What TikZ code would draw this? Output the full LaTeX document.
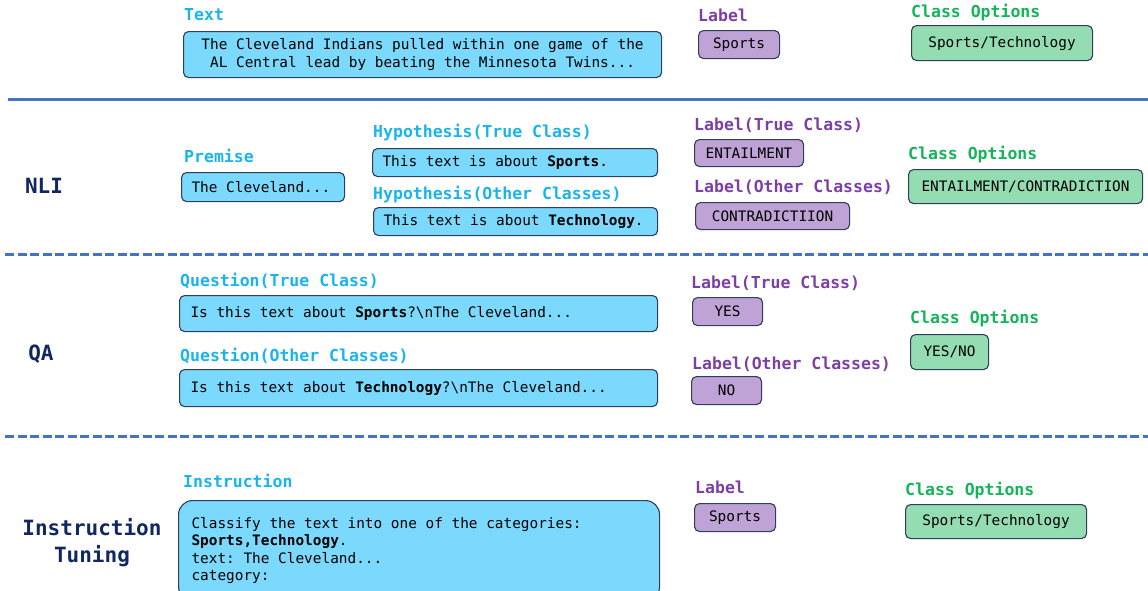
\documentclass[tikz,border=0pt]{standalone}
\usepackage{fontspec}
\setmainfont{DejaVu Sans Mono}
\usepackage{tikz}
\usepackage{xcolor}

\definecolor{boxline}{HTML}{2E3F5C}
\definecolor{textblue}{HTML}{7AD9FC}
\definecolor{labelpurple}{HTML}{C0A3D6}
\definecolor{optgreen}{HTML}{94DDB3}
\definecolor{headblue}{HTML}{19B4EC}
\definecolor{headpurple}{HTML}{7B3FA6}
\definecolor{headgreen}{HTML}{14B45A}
\definecolor{sidenavy}{HTML}{102761}
\definecolor{sepblue}{HTML}{4472C4}

\frenchspacing
\newcommand{\bodyfont}{\fontsize{14.4}{17.5}\selectfont}
\newcommand{\headfont}{\fontsize{16.5}{19}\selectfont\bfseries}
\newcommand{\sidefont}{\fontsize{21}{27}\selectfont\bfseries}

\begin{document}
\begin{tikzpicture}[x=1pt, y=-1pt,
	box/.style={draw=boxline, line width=1.1pt, rounded corners=5pt, inner sep=0pt, anchor=north west, font=\bodyfont, text=black},
	sz/.style 2 args={minimum width=#1pt, minimum height=#2pt},
	lefttext/.style={text width=#1pt, align=flush left},
	textbox/.style={box, fill=textblue},
	labelbox/.style={box, fill=labelpurple},
	optbox/.style={box, fill=optgreen},
	head/.style={anchor=base west, inner sep=0pt, font=\headfont},
	texthead/.style={head, text=headblue},
	labelhead/.style={head, text=headpurple},
	opthead/.style={head, text=headgreen},
	task/.style={align=center, font=\sidefont, text=sidenavy},
	solidsep/.style={sepblue, line width=3pt},
	dashsep/.style={sepblue, line width=3pt, dash pattern=on 9pt off 3.5pt}]

	\useasboundingbox (0,0) rectangle (1148,590);

	% plain classification
	\node[texthead] (txthead) at (184,20) {Text};
	\node[textbox, sz={478}{46}, align=center] (txt) at (183,31) {The Cleveland Indians pulled within one game of the\\AL Central lead by beating the Minnesota Twins...};
	\node[labelhead] (txtlabhead) at (698,21) {Label};
	\node[labelbox, sz={81}{28}] (txtlab) at (698,30) {Sports};
	\node[opthead] (txtopthead) at (911,17) {Class Options};
	\node[optbox, sz={181}{35}] (txtopt) at (911,25) {Sports/Technology};
	\draw[solidsep] (8,99) -- (1148,99);

	% NLI
	\node[task] (nli) at (44,186) {NLI};
	\node[texthead] (premhead) at (184,162) {Premise};
	\node[textbox, sz={163}{29}, lefttext=143] (prem) at (181,172) {The Cleveland...};
	\node[texthead] (hyptruehead) at (373,137) {Hypothesis(True Class)};
	\node[textbox, sz={285}{28}, lefttext=265] (hyptrue) at (372,148) {This text is about \textbf{Sports}.};
	\node[texthead] (hypotherhead) at (373,199) {Hypothesis(Other Classes)};
	\node[textbox, sz={284}{28}, lefttext=264] (hypother) at (373,207) {This text is about \textbf{Technology}.};
	\node[labelhead] (nlitruehead) at (694,130) {Label(True Class)};
	\node[labelbox, sz={109}{27}] (nlitrue) at (694,139) {ENTAILMENT};
	\node[labelhead] (nliotherhead) at (694,192) {Label(Other Classes)};
	\node[labelbox, sz={154}{27}] (nliother) at (695,202) {CONTRADICTIION};
	\node[opthead] (nliopthead) at (908,159) {Class Options};
	\node[optbox, sz={234}{34}] (nliopt) at (908,169) {ENTAILMENT/CONTRADICTION};
	\draw[dashsep] (5,254) -- (1148,254);

	% QA
	\node[task] (qa) at (41,354) {QA};
	\node[texthead] (qtruehead) at (180,286) {Question(True Class)};
	\node[textbox, sz={478}{36}, lefttext=456] (qtrue) at (179,295) {Is this text about \textbf{Sports}?\textbackslash nThe Cleveland...};
	\node[texthead] (qotherhead) at (180,361) {Question(Other Classes)};
	\node[textbox, sz={478}{37}, lefttext=456] (qother) at (179,369) {Is this text about \textbf{Technology}?\textbackslash nThe Cleveland...};
	\node[labelhead] (qatruehead) at (691,288) {Label(True Class)};
	\node[labelbox, sz={70}{28}] (qatrue) at (692,297) {YES};
	\node[labelhead] (qaotherhead) at (692,369) {Label(Other Classes)};
	\node[labelbox, sz={70}{28}] (qaother) at (691,376) {NO};
	\node[opthead] (qaopthead) at (910,323) {Class Options};
	\node[optbox, sz={78}{35}] (qaopt) at (910,334) {YES/NO};
	\draw[dashsep] (5,436) -- (1148,436);

	% instruction tuning
	\node[task] (it) at (92,543) {Instruction\\Tuning};
	\node[texthead] (insthead) at (183,487) {Instruction};
	\node[textbox, sz={481}{100}, rounded corners=14pt, lefttext=455] (inst) at (178,500) {Classify the text into one of the categories:\\\textbf{Sports,Technology}.\\text: The Cleveland...\\category:};
	\node[labelhead] (itlabhead) at (695,493) {Label};
	\node[labelbox, sz={81}{28}] (itlab) at (694,503) {Sports};
	\node[opthead] (itopthead) at (905,495) {Class Options};
	\node[optbox, sz={181}{34}] (itopt) at (905,504) {Sports/Technology};
\end{tikzpicture}
\end{document}
